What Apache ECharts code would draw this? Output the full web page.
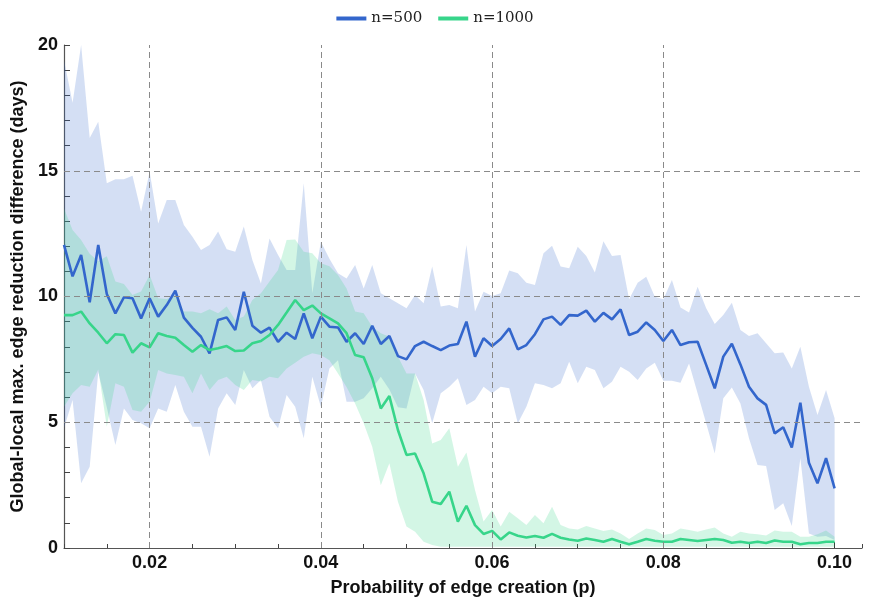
<!DOCTYPE html>
<html>
<head>
<meta charset="utf-8">
<script src="https://cdn.jsdelivr.net/npm/echarts@6/dist/echarts.min.js"></script>
<style>
  html, body { margin: 0; padding: 0; background: #fff; }
  #chart { width: 870px; height: 605px; }
</style>
</head>
<body>
<div id="chart"></div>
<script>
// mean and band (upper / lower) per p = 0.010 ... 0.100, step 0.001
var blueMean = [12.05,10.8,11.65,9.77,12.05,10.1,9.33,9.97,9.93,9.13,9.93,9.2,9.66,10.23,9.16,8.75,8.4,7.74,9.07,9.17,
  8.67,10.19,8.84,8.56,8.76,8.2,8.56,8.31,9.33,8.34,9.2,8.8,8.77,8.2,8.54,8.11,8.83,8.11,8.43,7.63,
  7.5,8.03,8.2,8.03,7.87,8.05,8.11,9.0,7.61,8.34,8.03,8.31,8.73,7.9,8.07,8.5,9.09,9.2,8.87,9.26,
  9.24,9.44,9.0,9.35,9.09,9.49,8.47,8.6,8.97,8.67,8.23,8.67,8.07,8.18,8.2,7.28,6.35,7.61,8.12,7.3,
  6.41,5.95,5.69,4.56,4.8,4.0,5.78,3.39,2.57,3.57,2.37];
var blueUpper = [19.4,17.7,21,16.3,16.95,14.5,14.66,14.66,14.8,13.37,14.96,12.9,13.84,13.84,12.84,12.38,11.85,12.05,12.58,11.88,
  11.78,12.78,11.45,10.52,12.31,11.65,11.05,11.05,14.5,10.13,12.18,11.5,10.92,10.72,11.25,10.32,11.25,10.13,9.93,9.73,
  9.53,10.06,9.73,11.19,9.6,9.66,9.53,12.05,9.4,10.19,10.02,10.13,11.03,10.92,10.55,10.46,11.72,12.02,11.19,11.12,
  11.98,11.61,10.95,12.2,11.61,11.65,9.89,10.55,10.79,9.99,9.89,10.66,9.56,9.36,10.39,9.53,8.91,9.26,9.75,8.67,
  8.43,8.54,8.14,7.74,7.77,7.14,8.0,6.41,5.29,6.28,5.16];
var blueLower = [4.76,5.88,2.57,3.23,7.0,5.6,4.1,5.55,5.09,4.96,4.76,5.55,5.42,6.48,5.42,4.82,4.82,3.63,5.55,6.15,
  5.69,7.08,6.35,6.68,5.22,4.76,6.08,5.62,4.36,6.81,5.62,7.14,7.47,5.82,5.82,5.95,6.35,6.81,6.3,5.6,
  5.55,6.94,6.28,4.96,6.15,6.41,6.75,5.69,5.88,6.41,6.15,6.41,6.35,4.96,5.62,6.55,6.48,6.35,6.55,7.41,
  6.55,7.21,7.08,6.35,6.61,7.21,7.01,6.68,7.14,7.37,6.65,6.65,6.57,7.34,6.15,4.96,3.76,5.95,6.38,5.75,
  4.36,3.3,3.26,1.51,1.78,0.87,3.57,0.58,0.45,0.48,0.32];

var greenMean = [9.26,9.26,9.4,8.93,8.56,8.14,8.5,8.47,7.77,8.14,7.98,8.54,8.43,8.36,8.07,7.8,8.07,7.87,7.94,8.03,
  7.83,7.85,8.14,8.23,8.47,8.87,9.36,9.86,9.46,9.64,9.33,9.13,8.93,8.54,7.67,7.58,6.75,5.55,6.04,4.69,
  3.7,3.76,2.97,1.84,1.75,2.24,1.05,1.68,0.91,0.56,0.68,0.34,0.62,0.49,0.42,0.48,0.41,0.56,0.41,0.34,
  0.29,0.38,0.32,0.25,0.36,0.25,0.15,0.25,0.36,0.29,0.25,0.25,0.36,0.32,0.28,0.32,0.36,0.32,0.21,0.25,
  0.2,0.25,0.2,0.3,0.25,0.25,0.15,0.2,0.2,0.25,0.25];
var greenUpper = [13.5,12.64,12.25,11.7,11.4,11.6,10.6,10.5,10.06,10.2,10.85,9.93,9.9,10.06,9.4,9.4,9.33,9.49,9.33,9.6,
  9.07,9.2,9.86,10.13,10.6,11.05,12.25,12.27,11.78,11.72,11.32,11.2,10.85,10.32,9.4,9.33,8.8,8.54,8.4,7.61,
  6.94,6.94,5.88,4.16,4.29,4.76,3.23,3.8,2.31,1.05,1.51,0.85,1.44,1.18,0.91,1.31,0.98,1.64,0.91,0.78,
  0.74,0.87,0.78,0.68,0.74,0.58,0.36,0.58,0.78,0.72,0.52,0.58,0.78,0.72,0.65,0.74,0.82,0.58,0.45,0.65,
  0.58,0.55,0.5,0.7,0.65,0.65,0.45,0.45,0.55,0.7,0.45];
var greenLower = [5.62,6.15,6.48,6.41,7.1,4.82,6.55,6.41,5.49,5.42,5.82,7.08,6.94,6.88,6.81,6.15,6.94,6.28,6.68,6.81,
  6.48,6.28,6.68,6.62,6.81,6.75,7.14,7.37,7.6,7.74,7.67,7.47,6.94,6.4,5.75,4.96,4.03,2.5,3.37,1.84,
  0.85,0.65,0.25,0.12,0.05,0.05,0.05,0.05,0.05,0.05,0.05,0.05,0.05,0.05,0.05,0.05,0.05,0.05,0.05,0.05,
  0.05,0.05,0.05,0.05,0.05,0.05,0.05,0.05,0.05,0.05,0.05,0.05,0.05,0.05,0.05,0.05,0.05,0.05,0.05,0.05,
  0.05,0.05,0.05,0.05,0.05,0.05,0.05,0.05,0.05,0.05,0.05];

var xLabelTicks = [0.02, 0.04, 0.06, 0.08, 0.10];
var xGridLines = [0.02, 0.04, 0.06, 0.08];
var yGridLines = [5, 10, 15];

var pValues = blueMean.map(function (v, i) { return +(0.010 + i * 0.001).toFixed(3); });

function pairs(arr) {
  return arr.map(function (v, i) { return [pValues[i], v]; });
}
function bandItems(lo, up) {
  return lo.map(function (v, i) { return [pValues[i], v, up[i]]; });
}

var BLUE = '#3366CC';
var GREEN = '#37D58A';
var sans = 'Liberation Sans, Arial, sans-serif';

// whole band as one polygon, drawn on the first item only
function bandRenderer(items, color, opacity) {
  return function (params, api) {
    if (params.dataIndex !== 0) return null;
    var pts = [];
    for (var i = 0; i < items.length; i++) {
      pts.push(api.coord([items[i][0], items[i][2]]));
    }
    for (var j = items.length - 1; j >= 0; j--) {
      pts.push(api.coord([items[j][0], items[j][1]]));
    }
    var cs = params.coordSys;
    pts = echarts.graphic.clipPointsByRect(pts, { x: cs.x, y: cs.y, width: cs.width, height: cs.height });
    return {
      type: 'polygon',
      shape: { points: pts },
      style: { fill: color, opacity: opacity },
      silent: true
    };
  };
}

var blueBand = bandItems(blueLower, blueUpper);
var greenBand = bandItems(greenLower, greenUpper);

var chart = echarts.init(document.getElementById('chart'));

var gridMarks = [];
xGridLines.forEach(function (v) { gridMarks.push({ xAxis: v }); });
yGridLines.forEach(function (v) { gridMarks.push({ yAxis: v }); });

var option = {
  backgroundColor: '#ffffff',
  animation: false,
  legend: {
    top: 6,
    left: 'center',
    itemWidth: 30,
    itemHeight: 4,
    itemGap: 16,
    icon: 'rect',
    data: ['n=500', 'n=1000'],
    textStyle: { fontFamily: 'DejaVu Serif, serif', fontSize: 15, color: '#222' }
  },
  grid: { left: 64, right: 8, top: 45, bottom: 57 },
  xAxis: [{
    type: 'value',
    min: 0.01,
    max: 0.1032,
    interval: 0.005,
    name: 'Probability of edge creation (p)',
    nameLocation: 'middle',
    nameGap: 31,
    nameTextStyle: { fontFamily: sans, fontWeight: 'bold', fontSize: 18, color: '#111' },
    axisLine: { show: true, lineStyle: { color: '#555', width: 1.2 } },
    axisTick: { show: true, inside: true, length: 4, lineStyle: { color: '#444' } },
    axisLabel: { show: false },
    splitLine: { show: false }
  }, {
    type: 'value',
    position: 'bottom',
    min: 0.01,
    max: 0.1032,
    axisLine: { show: false },
    axisTick: { show: true, inside: true, length: 6, customValues: xLabelTicks, lineStyle: { color: '#333' } },
    axisLabel: {
      show: true,
      margin: 6,
      customValues: xLabelTicks,
      formatter: function (v) { return v.toFixed(2); },
      fontFamily: sans, fontWeight: 'bold', fontSize: 18, color: '#111'
    },
    splitLine: { show: false }
  }],
  yAxis: {
    type: 'value',
    min: 0,
    max: 20,
    interval: 5,
    name: 'Global-local max. edge reduction difference (days)',
    nameLocation: 'middle',
    nameGap: 35,
    nameTextStyle: { fontFamily: sans, fontWeight: 'bold', fontSize: 18, color: '#111' },
    axisLine: { show: true, lineStyle: { color: '#555', width: 1.2 } },
    axisTick: { show: true, inside: true, length: 6, lineStyle: { color: '#444' } },
    minorTick: { show: true, splitNumber: 5, length: 6, lineStyle: { color: '#444' } },
    axisLabel: { margin: 6, fontFamily: sans, fontWeight: 'bold', fontSize: 18, color: '#111' },
    splitLine: { show: false }
  },
  series: [
    {
      name: 'blueBand', type: 'custom', data: blueBand,
      encode: { x: 0, y: [1, 2] },
      renderItem: bandRenderer(blueBand, BLUE, 0.21),
      silent: true, z: 1
    },
    {
      name: 'greenBand', type: 'custom', data: greenBand,
      encode: { x: 0, y: [1, 2] },
      renderItem: bandRenderer(greenBand, GREEN, 0.22),
      silent: true, z: 1
    },
    {
      name: 'grid', type: 'line', data: [], z: 2,
      markLine: {
        silent: true, symbol: 'none', label: { show: false },
        lineStyle: { color: '#8a8a8a', type: [6, 4], width: 1 },
        data: gridMarks
      }
    },
    {
      name: 'n=500', type: 'line', data: pairs(blueMean), symbol: 'none', z: 3,
      color: BLUE, lineStyle: { color: BLUE, width: 2.6 }
    },
    {
      name: 'n=1000', type: 'line', data: pairs(greenMean), symbol: 'none', z: 3,
      color: GREEN, lineStyle: { color: GREEN, width: 2.6 }
    }
  ]
};

chart.setOption(option);
</script>
</body>
</html>
